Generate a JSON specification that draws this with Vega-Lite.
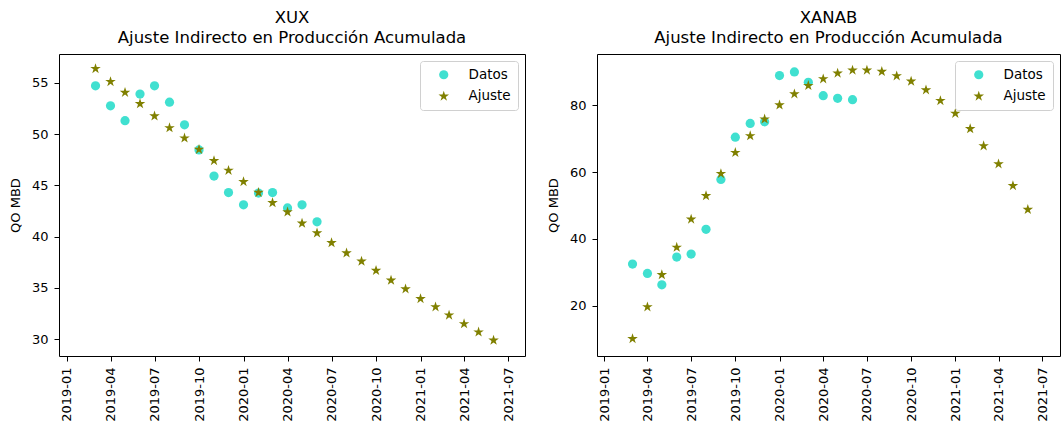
{
  "$schema": "https://vega.github.io/schema/vega-lite/v6.json",
  "background": "white",
  "padding": {"left": 8, "top": 9, "right": 0, "bottom": 0},
  "spacing": 20,
  "config": {
    "font": "DejaVu Sans",
    "view": {"stroke": "black", "strokeWidth": 1},
    "axis": {
      "domain": false, "grid": false,
      "tickColor": "black", "tickSize": 5, "tickWidth": 1,
      "labelColor": "black", "labelFont": "DejaVu Sans", "labelFontSize": 13,
      "titleColor": "black", "titleFont": "DejaVu Sans", "titleFontSize": 13, "titleFontWeight": "normal"
    },
    "title": {"font": "DejaVu Sans", "fontSize": 16.5, "fontWeight": "normal", "color": "black", "anchor": "middle", "offset": 8, "lineHeight": 20},
    "legend": {
      "orient": "top-right", "offset": 7, "fillColor": "white", "strokeColor": "#d0d0d0", "cornerRadius": 3,
      "padding": 7, "labelFont": "DejaVu Sans", "labelFontSize": 13.5, "labelColor": "black",
      "symbolSize": 85, "symbolStrokeWidth": 0, "symbolOffset": 10, "labelOffset": 18, "rowPadding": 6.5
    }
  },
  "datasets": {
    "pts": [
      {"p": "XUX", "s": "Datos", "f": "2019-03-01", "v": 54.7},
      {"p": "XUX", "s": "Datos", "f": "2019-04-01", "v": 52.75},
      {"p": "XUX", "s": "Datos", "f": "2019-05-01", "v": 51.3},
      {"p": "XUX", "s": "Datos", "f": "2019-06-01", "v": 53.9},
      {"p": "XUX", "s": "Datos", "f": "2019-07-01", "v": 54.7},
      {"p": "XUX", "s": "Datos", "f": "2019-08-01", "v": 53.1},
      {"p": "XUX", "s": "Datos", "f": "2019-09-01", "v": 50.9},
      {"p": "XUX", "s": "Datos", "f": "2019-10-01", "v": 48.45},
      {"p": "XUX", "s": "Datos", "f": "2019-11-01", "v": 45.9},
      {"p": "XUX", "s": "Datos", "f": "2019-12-01", "v": 44.3},
      {"p": "XUX", "s": "Datos", "f": "2020-01-01", "v": 43.1},
      {"p": "XUX", "s": "Datos", "f": "2020-02-01", "v": 44.25},
      {"p": "XUX", "s": "Datos", "f": "2020-03-01", "v": 44.3},
      {"p": "XUX", "s": "Datos", "f": "2020-04-01", "v": 42.8},
      {"p": "XUX", "s": "Datos", "f": "2020-05-01", "v": 43.1},
      {"p": "XUX", "s": "Datos", "f": "2020-06-01", "v": 41.45},
      {"p": "XUX", "s": "Ajuste", "f": "2019-03-01", "v": 56.37},
      {"p": "XUX", "s": "Ajuste", "f": "2019-04-01", "v": 55.1},
      {"p": "XUX", "s": "Ajuste", "f": "2019-05-01", "v": 54.05},
      {"p": "XUX", "s": "Ajuste", "f": "2019-06-01", "v": 52.95},
      {"p": "XUX", "s": "Ajuste", "f": "2019-07-01", "v": 51.75},
      {"p": "XUX", "s": "Ajuste", "f": "2019-08-01", "v": 50.6},
      {"p": "XUX", "s": "Ajuste", "f": "2019-09-01", "v": 49.6},
      {"p": "XUX", "s": "Ajuste", "f": "2019-10-01", "v": 48.5},
      {"p": "XUX", "s": "Ajuste", "f": "2019-11-01", "v": 47.4},
      {"p": "XUX", "s": "Ajuste", "f": "2019-12-01", "v": 46.45},
      {"p": "XUX", "s": "Ajuste", "f": "2020-01-01", "v": 45.35},
      {"p": "XUX", "s": "Ajuste", "f": "2020-02-01", "v": 44.3},
      {"p": "XUX", "s": "Ajuste", "f": "2020-03-01", "v": 43.3},
      {"p": "XUX", "s": "Ajuste", "f": "2020-04-01", "v": 42.4},
      {"p": "XUX", "s": "Ajuste", "f": "2020-05-01", "v": 41.3},
      {"p": "XUX", "s": "Ajuste", "f": "2020-06-01", "v": 40.35},
      {"p": "XUX", "s": "Ajuste", "f": "2020-07-01", "v": 39.4},
      {"p": "XUX", "s": "Ajuste", "f": "2020-08-01", "v": 38.4},
      {"p": "XUX", "s": "Ajuste", "f": "2020-09-01", "v": 37.6},
      {"p": "XUX", "s": "Ajuste", "f": "2020-10-01", "v": 36.7},
      {"p": "XUX", "s": "Ajuste", "f": "2020-11-01", "v": 35.75},
      {"p": "XUX", "s": "Ajuste", "f": "2020-12-01", "v": 34.9},
      {"p": "XUX", "s": "Ajuste", "f": "2021-01-01", "v": 33.95},
      {"p": "XUX", "s": "Ajuste", "f": "2021-02-01", "v": 33.15},
      {"p": "XUX", "s": "Ajuste", "f": "2021-03-01", "v": 32.35},
      {"p": "XUX", "s": "Ajuste", "f": "2021-04-01", "v": 31.5},
      {"p": "XUX", "s": "Ajuste", "f": "2021-05-01", "v": 30.7},
      {"p": "XUX", "s": "Ajuste", "f": "2021-06-01", "v": 29.9},
      {"p": "XANAB", "s": "Datos", "f": "2019-03-01", "v": 32.5},
      {"p": "XANAB", "s": "Datos", "f": "2019-04-01", "v": 29.7},
      {"p": "XANAB", "s": "Datos", "f": "2019-05-01", "v": 26.3},
      {"p": "XANAB", "s": "Datos", "f": "2019-06-01", "v": 34.6},
      {"p": "XANAB", "s": "Datos", "f": "2019-07-01", "v": 35.5},
      {"p": "XANAB", "s": "Datos", "f": "2019-08-01", "v": 42.9},
      {"p": "XANAB", "s": "Datos", "f": "2019-09-01", "v": 57.8},
      {"p": "XANAB", "s": "Datos", "f": "2019-10-01", "v": 70.4},
      {"p": "XANAB", "s": "Datos", "f": "2019-11-01", "v": 74.5},
      {"p": "XANAB", "s": "Datos", "f": "2019-12-01", "v": 75.0},
      {"p": "XANAB", "s": "Datos", "f": "2020-01-01", "v": 88.8},
      {"p": "XANAB", "s": "Datos", "f": "2020-02-01", "v": 89.9},
      {"p": "XANAB", "s": "Datos", "f": "2020-03-01", "v": 86.8},
      {"p": "XANAB", "s": "Datos", "f": "2020-04-01", "v": 82.8},
      {"p": "XANAB", "s": "Datos", "f": "2020-05-01", "v": 82.0},
      {"p": "XANAB", "s": "Datos", "f": "2020-06-01", "v": 81.6},
      {"p": "XANAB", "s": "Ajuste", "f": "2019-03-01", "v": 10.2},
      {"p": "XANAB", "s": "Ajuste", "f": "2019-04-01", "v": 19.7},
      {"p": "XANAB", "s": "Ajuste", "f": "2019-05-01", "v": 29.3},
      {"p": "XANAB", "s": "Ajuste", "f": "2019-06-01", "v": 37.5},
      {"p": "XANAB", "s": "Ajuste", "f": "2019-07-01", "v": 45.9},
      {"p": "XANAB", "s": "Ajuste", "f": "2019-08-01", "v": 52.9},
      {"p": "XANAB", "s": "Ajuste", "f": "2019-09-01", "v": 59.5},
      {"p": "XANAB", "s": "Ajuste", "f": "2019-10-01", "v": 65.8},
      {"p": "XANAB", "s": "Ajuste", "f": "2019-11-01", "v": 70.8},
      {"p": "XANAB", "s": "Ajuste", "f": "2019-12-01", "v": 75.8},
      {"p": "XANAB", "s": "Ajuste", "f": "2020-01-01", "v": 80.0},
      {"p": "XANAB", "s": "Ajuste", "f": "2020-02-01", "v": 83.3},
      {"p": "XANAB", "s": "Ajuste", "f": "2020-03-01", "v": 85.8},
      {"p": "XANAB", "s": "Ajuste", "f": "2020-04-01", "v": 87.8},
      {"p": "XANAB", "s": "Ajuste", "f": "2020-05-01", "v": 89.5},
      {"p": "XANAB", "s": "Ajuste", "f": "2020-06-01", "v": 90.4},
      {"p": "XANAB", "s": "Ajuste", "f": "2020-07-01", "v": 90.4},
      {"p": "XANAB", "s": "Ajuste", "f": "2020-08-01", "v": 90.0},
      {"p": "XANAB", "s": "Ajuste", "f": "2020-09-01", "v": 88.7},
      {"p": "XANAB", "s": "Ajuste", "f": "2020-10-01", "v": 87.1},
      {"p": "XANAB", "s": "Ajuste", "f": "2020-11-01", "v": 84.5},
      {"p": "XANAB", "s": "Ajuste", "f": "2020-12-01", "v": 81.3},
      {"p": "XANAB", "s": "Ajuste", "f": "2021-01-01", "v": 77.5},
      {"p": "XANAB", "s": "Ajuste", "f": "2021-02-01", "v": 72.9},
      {"p": "XANAB", "s": "Ajuste", "f": "2021-03-01", "v": 67.8},
      {"p": "XANAB", "s": "Ajuste", "f": "2021-04-01", "v": 62.4},
      {"p": "XANAB", "s": "Ajuste", "f": "2021-05-01", "v": 55.9},
      {"p": "XANAB", "s": "Ajuste", "f": "2021-06-01", "v": 48.8}
    ]
  },
  "resolve": {"scale": {"color": "independent", "shape": "independent", "x": "independent", "y": "independent"}},
  "hconcat": [
    {
      "title": {"text": ["XUX", "Ajuste Indirecto en Producción Acumulada"]},
      "width": 466,
      "height": 302,
      "data": {"name": "pts"},
      "transform": [{"filter": "datum.p === 'XUX'"}],
      "mark": {"type": "point", "filled": true, "opacity": 1, "size": 85},
      "encoding": {
        "x": {
          "field": "f", "type": "temporal", "title": null,
          "scale": {"type": "utc", "domain": [
            {"year": 2018, "month": 12, "date": 15, "hours": 12, "utc": true},
            {"year": 2021, "month": 8, "date": 5, "utc": true}
          ]},
          "axis": {
            "format": "%Y-%m", "labelAngle": 270, "labelPadding": 6,
            "values": [
              {"year": 2019, "month": 1, "date": 1, "utc": true},
              {"year": 2019, "month": 4, "date": 1, "utc": true},
              {"year": 2019, "month": 7, "date": 1, "utc": true},
              {"year": 2019, "month": 10, "date": 1, "utc": true},
              {"year": 2020, "month": 1, "date": 1, "utc": true},
              {"year": 2020, "month": 4, "date": 1, "utc": true},
              {"year": 2020, "month": 7, "date": 1, "utc": true},
              {"year": 2020, "month": 10, "date": 1, "utc": true},
              {"year": 2021, "month": 1, "date": 1, "utc": true},
              {"year": 2021, "month": 4, "date": 1, "utc": true},
              {"year": 2021, "month": 7, "date": 1, "utc": true}
            ]
          }
        },
        "y": {
          "field": "v", "type": "quantitative", "title": "QO MBD",
          "scale": {"domain": [28.37, 57.8], "nice": false, "zero": false},
          "axis": {"values": [30, 35, 40, 45, 50, 55], "labelPadding": 6, "titlePadding": 9}
        },
        "color": {
          "field": "s", "type": "nominal", "title": null,
          "scale": {"domain": ["Datos", "Ajuste"], "range": ["#40E0D0", "#808000"]}
        },
        "shape": {
          "field": "s", "type": "nominal", "title": null,
          "scale": {"domain": ["Datos", "Ajuste"], "range": ["circle", "M0,-1.2L0.269,-0.371L1.141,-0.371L0.436,0.142L0.706,0.971L0,0.458L-0.706,0.971L-0.436,0.142L-1.141,-0.371L-0.269,-0.371Z"]}
        },
        "order": {"field": "s", "sort": "descending"}
      }
    },
    {
      "title": {"text": ["XANAB", "Ajuste Indirecto en Producción Acumulada"]},
      "width": 463,
      "height": 302,
      "data": {"name": "pts"},
      "transform": [{"filter": "datum.p === 'XANAB'"}],
      "mark": {"type": "point", "filled": true, "opacity": 1, "size": 85},
      "encoding": {
        "x": {
          "field": "f", "type": "temporal", "title": null,
          "scale": {"type": "utc", "domain": [
            {"year": 2018, "month": 12, "date": 17, "utc": true},
            {"year": 2021, "month": 8, "date": 7, "utc": true}
          ]},
          "axis": {
            "format": "%Y-%m", "labelAngle": 270, "labelPadding": 6,
            "values": [
              {"year": 2019, "month": 1, "date": 1, "utc": true},
              {"year": 2019, "month": 4, "date": 1, "utc": true},
              {"year": 2019, "month": 7, "date": 1, "utc": true},
              {"year": 2019, "month": 10, "date": 1, "utc": true},
              {"year": 2020, "month": 1, "date": 1, "utc": true},
              {"year": 2020, "month": 4, "date": 1, "utc": true},
              {"year": 2020, "month": 7, "date": 1, "utc": true},
              {"year": 2020, "month": 10, "date": 1, "utc": true},
              {"year": 2021, "month": 1, "date": 1, "utc": true},
              {"year": 2021, "month": 4, "date": 1, "utc": true},
              {"year": 2021, "month": 7, "date": 1, "utc": true}
            ]
          }
        },
        "y": {
          "field": "v", "type": "quantitative", "title": "QO MBD",
          "scale": {"domain": [5.05, 95.25], "nice": false, "zero": false},
          "axis": {"values": [20, 40, 60, 80], "labelPadding": 6, "titlePadding": 9}
        },
        "color": {
          "field": "s", "type": "nominal", "title": null,
          "scale": {"domain": ["Datos", "Ajuste"], "range": ["#40E0D0", "#808000"]}
        },
        "shape": {
          "field": "s", "type": "nominal", "title": null,
          "scale": {"domain": ["Datos", "Ajuste"], "range": ["circle", "M0,-1.2L0.269,-0.371L1.141,-0.371L0.436,0.142L0.706,0.971L0,0.458L-0.706,0.971L-0.436,0.142L-1.141,-0.371L-0.269,-0.371Z"]}
        },
        "order": {"field": "s", "sort": "descending"}
      }
    }
  ]
}
